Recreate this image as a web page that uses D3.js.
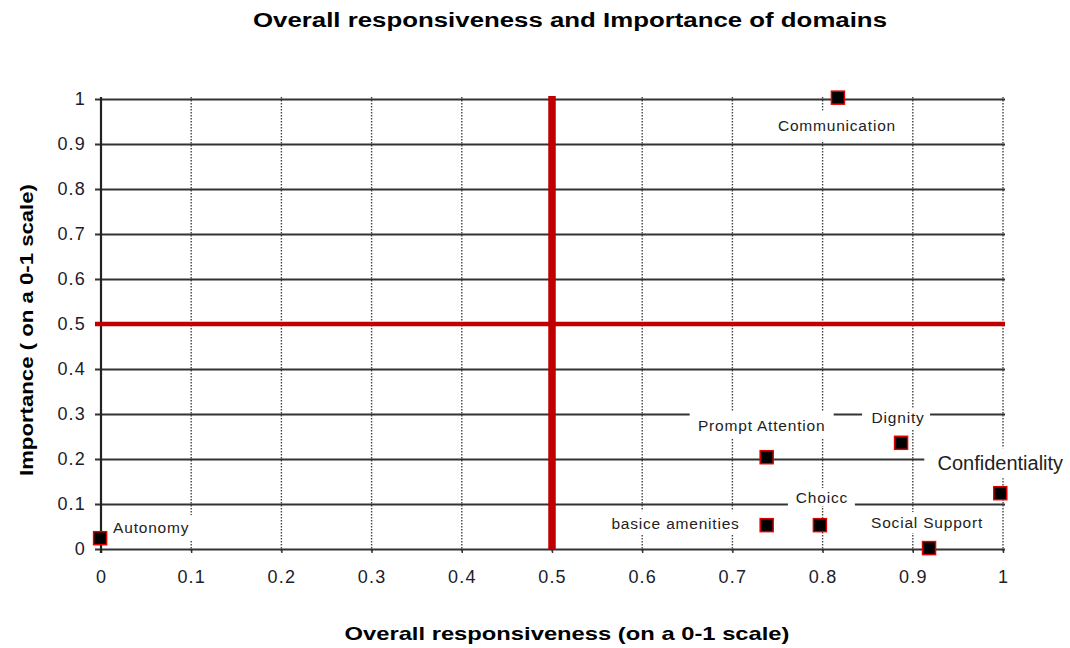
<!DOCTYPE html>
<html><head><meta charset="utf-8">
<script src="https://cdn.jsdelivr.net/npm/d3@7"></script>
<style>html,body{margin:0;padding:0;background:#fff;}svg{display:block;font-family:Arial,"Liberation Sans",sans-serif;}</style>
</head><body><svg id="c" width="1070" height="648"></svg>
<script>
// ---- data ----
const domains = ["Communication","Dignity","Prompt  Attention","Confidentiality","basice amenities","Choicc","Social Support","Autonomy"];
const responsiveness = [0.817, 0.887, 0.738, 0.997, 0.738, 0.797, 0.918, -0.001];
const importance = [1.003, 0.236, 0.204, 0.124, 0.053, 0.053, 0.002, 0.024];
const xTicks = [0,0.1,0.2,0.3,0.4,0.5,0.6,0.7,0.8,0.9,1];
const yTicks = [0,0.1,0.2,0.3,0.4,0.5,0.6,0.7,0.8,0.9,1];
const xTickLabels = ["0","0.1","0.2","0.3","0.4","0.5","0.6","0.7","0.8","0.9","1"];
const yTickLabels = ["0","0.1","0.2","0.3","0.4","0.5","0.6","0.7","0.8","0.9","1"];
const quadrantX = 0.5, quadrantY = 0.5;
const title = "Overall responsiveness and Importance of domains";
const xTitle = "Overall responsiveness (on a 0-1 scale)";
const yTitle = "Importance ( on a 0-1 scale)";

// ---- layout (label placement relative to point, box extents) ----
const labelLayout = {
  "Communication":   {dx:-1, dy:28, anchor:"middle", size:15.5, box:[-62,-15,124,30]},
  "Dignity":         {dx:-3, dy:-25, anchor:"middle", size:15.5, box:[-36,-10,68,22]},
  "Prompt  Attention":{dx:-5, dy:-32, anchor:"middle", size:15.5, box:[-72,-14,144,27]},
  "Confidentiality": {dx:0, dy:-30, anchor:"middle", size:20, box:[-76,-15,150,30]},
  "basice amenities":{dx:-27, dy:-2, anchor:"end", size:15.5, box:[-132,-12,138,23]},
  "Choicc":          {dx:2, dy:-28, anchor:"middle", size:15.5, box:[-34,-9,67,18]},
  "Social Support":  {dx:-2, dy:-26, anchor:"middle", size:15.5, box:[-62,-10,125,21]},
  "Autonomy":        {dx:13, dy:-11, anchor:"start", size:15.5, box:[-5,-12,89,25]}
};

const svg = d3.select("#c");
const x = d3.scaleLinear().domain([0,1]).range([101,1003]);
const y = d3.scaleLinear().domain([0,1]).range([549,99]);

// vertical dotted gridlines
svg.append("g").selectAll("line").data(xTicks.slice(1)).join("line")
  .attr("x1",d=>x(d)).attr("x2",d=>x(d)).attr("y1",y(1)-2).attr("y2",y(0)+4)
  .attr("stroke","#444").attr("stroke-width",1.4).attr("stroke-dasharray","1.5,1.5");

// horizontal gridlines via axis
const yAxis = d3.axisLeft(y).tickValues(yTicks).tickFormat((d,i)=>yTickLabels[i])
  .tickSize(-(x(1)-x(0)+2)).tickPadding(9);
const gy = svg.append("g").attr("transform",`translate(${x(0)-6},0)`).call(yAxis);
gy.select(".domain").remove();
gy.selectAll(".tick line").attr("x1",0).attr("x2",x(1)-x(0)+8).attr("stroke","#333").attr("stroke-width",1.8);
gy.selectAll(".tick text").attr("font-size",18).attr("fill","#1c1c2c").attr("letter-spacing",1.2);

// x axis labels
const xAxis = d3.axisBottom(x).tickValues(xTicks).tickFormat((d,i)=>xTickLabels[i]).tickSize(4).tickPadding(17);
const gx = svg.append("g").attr("transform",`translate(0,${y(0)})`).call(xAxis);
gx.select(".domain").remove();
gx.selectAll(".tick line").attr("stroke","#333").attr("stroke-width",1.4);
gx.selectAll(".tick text").attr("font-size",18).attr("fill","#1c1c2c").attr("letter-spacing",1.2);

// left axis line
svg.append("line").attr("x1",x(0)).attr("x2",x(0)).attr("y1",y(1)-2).attr("y2",y(0)+4)
  .attr("stroke","#222").attr("stroke-width",2.2);

// quadrant lines
svg.append("line").attr("x1",x(0)-6).attr("x2",x(1)+2).attr("y1",y(quadrantY)).attr("y2",y(quadrantY))
  .attr("stroke","#c00000").attr("stroke-width",4.5);
svg.append("line").attr("x1",x(quadrantX)).attr("x2",x(quadrantX)).attr("y1",y(1)-3).attr("y2",y(0))
  .attr("stroke","#c00000").attr("stroke-width",7.5);

// labels with white boxes
const pts = domains.map((d,i)=>({name:d, xv:responsiveness[i], yv:importance[i]}));
const lg = svg.append("g").selectAll("g").data(pts).join("g")
  .attr("transform",d=>{const L=labelLayout[d.name];return `translate(${x(d.xv)+L.dx},${y(d.yv)+L.dy})`;});
lg.append("rect").attr("x",d=>labelLayout[d.name].box[0]).attr("y",d=>labelLayout[d.name].box[1])
  .attr("width",d=>labelLayout[d.name].box[2]).attr("height",d=>labelLayout[d.name].box[3]).attr("fill","#fff");
lg.append("text").text(d=>d.name).attr("text-anchor",d=>labelLayout[d.name].anchor)
  .attr("dominant-baseline","central").attr("font-size",d=>labelLayout[d.name].size)
  .attr("letter-spacing",d=>labelLayout[d.name].size>16?0:0.8).attr("fill","#222");

// markers
svg.append("g").selectAll("rect").data(pts).join("rect")
  .attr("x",d=>x(d.xv)-6.5).attr("y",d=>y(d.yv)-6.5).attr("width",13).attr("height",13)
  .attr("fill","#000").attr("stroke","#e00000").attr("stroke-width",1.5);

// titles
svg.append("text").attr("x",570).attr("y",27).attr("text-anchor","middle").attr("font-size",20)
  .attr("font-weight","bold").attr("fill","#000").attr("textLength",634).attr("lengthAdjust","spacingAndGlyphs").text(title);
svg.append("text").attr("x",567).attr("y",640).attr("text-anchor","middle").attr("font-size",19)
  .attr("font-weight","bold").attr("fill","#000").attr("textLength",445).attr("lengthAdjust","spacingAndGlyphs").text(xTitle);
svg.append("text").attr("transform","translate(33,330) rotate(-90)").attr("text-anchor","middle").attr("font-size",19)
  .attr("font-weight","bold").attr("fill","#000").attr("textLength",292).attr("lengthAdjust","spacingAndGlyphs").text(yTitle);
</script></body></html>
